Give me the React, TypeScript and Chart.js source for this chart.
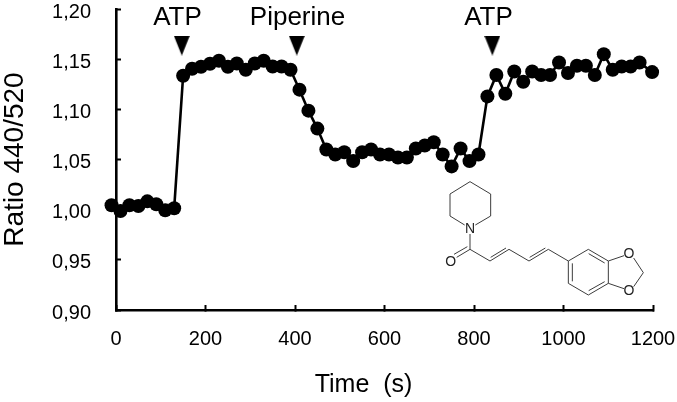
import React, { useEffect, useRef } from "react";
import { Chart, registerables } from "chart.js";

Chart.register(...registerables);

const timeSeconds = [-10, 10, 30, 50, 70, 90, 110, 130, 150, 170, 190, 210, 230, 250, 270, 290, 310, 330, 350, 370, 390, 410, 430, 450, 470, 490, 510, 530, 550, 570, 590, 610, 630, 650, 670, 690, 710, 730, 750, 770, 790, 810, 830, 850, 870, 890, 910, 930, 950, 970, 990, 1010, 1030, 1050, 1070, 1090, 1110, 1130, 1150, 1170, 1198];
const ratioValues = [1.0044, 0.9987, 1.0044, 1.0037, 1.0083, 1.0054, 0.9994, 1.0014, 1.1335, 1.1404, 1.1424, 1.1454, 1.1484, 1.1424, 1.1457, 1.1394, 1.1457, 1.1484, 1.1427, 1.1427, 1.1394, 1.1196, 1.0987, 1.0808, 1.06, 1.055, 1.0573, 1.0484, 1.0573, 1.06, 1.055, 1.055, 1.052, 1.052, 1.061, 1.064, 1.0672, 1.055, 1.0431, 1.061, 1.0484, 1.055, 1.1129, 1.1342, 1.1156, 1.1377, 1.1275, 1.1377, 1.1342, 1.1342, 1.1467, 1.1362, 1.1434, 1.1434, 1.1342, 1.155, 1.1394, 1.1427, 1.1427, 1.1467, 1.1371];
const markerTimes = [147, 404, 841];
const markerRatios = [1.1635, 1.1635, 1.1635];
const markerLabels = ["ATP", "Piperine", "ATP"];
const markerLabelTimes = [83, 299, 778];
const markerLabelRatio = 1.191;
const xAxisTitle = "Time  (s)";

const FONT = '"Liberation Sans", Arial, sans-serif';

const BONDS: number[][] = [
  [120, 35, 182, 72], [182, 72, 182, 138], [182, 138, 136, 165], [104, 165, 60, 138], [60, 138, 60, 72], [60, 72, 120, 35],
  [120, 192, 120, 238], [120, 238, 80, 262], [112, 230, 72, 253],
  [120, 238, 180, 273], [180, 273, 237, 238], [182, 262, 228, 234],
  [237, 238, 297, 273], [297, 273, 355, 238], [299, 262, 346, 234],
  [355, 238, 415, 273],
  [415, 273, 475, 238], [475, 238, 535, 273], [535, 273, 535, 340], [535, 340, 475, 375], [475, 375, 415, 340], [415, 340, 415, 273],
  [476, 251, 524, 279], [524, 335, 476, 362], [427, 334, 427, 280],
  [535, 273, 582, 257], [535, 340, 582, 356], [611, 264, 640, 308], [611, 350, 640, 308],
];
const ATOMS: [string, number, number][] = [["N", 120, 176], ["O", 62, 276], ["O", 597, 253], ["O", 597, 362]];

function triangleImage(): HTMLCanvasElement {
  const c = document.createElement("canvas");
  c.width = 16;
  c.height = 20;
  const g = c.getContext("2d")!;
  g.fillStyle = "#000";
  g.beginPath();
  g.moveTo(0, 0);
  g.lineTo(16, 0);
  g.lineTo(8, 20);
  g.closePath();
  g.fill();
  return c;
}

const annotationPlugin = {
  id: "annotations",
  afterDraw(chart: any) {
    const { ctx, scales } = chart;
    ctx.save();
    ctx.fillStyle = "#000";
    ctx.textBaseline = "middle";

    // y tick labels sit a little below their ticks in the reference
    ctx.font = `20px ${FONT}`;
    ctx.textAlign = "right";
    scales.y.ticks.forEach((t: any) => {
      ctx.fillText(Number(t.value).toFixed(2).replace(".", ","), 91, scales.y.getPixelForValue(t.value) + 3);
    });

    ctx.font = `26px ${FONT}`;
    ctx.textAlign = "left";
    markerLabels.forEach((t, i) => {
      ctx.fillText(t, scales.x.getPixelForValue(markerLabelTimes[i]), scales.y.getPixelForValue(markerLabelRatio));
    });

    ctx.font = `25px ${FONT}`;
    ctx.textAlign = "center";
    ctx.fillText(xAxisTitle, 363.5, 385);

    const mx = (v: number) => 430 + v / 3;
    const my = (v: number) => 170 + v / 3;
    ctx.strokeStyle = "#3c3c3c";
    ctx.lineWidth = 1;
    BONDS.forEach(([a, b, c, d]) => {
      ctx.beginPath();
      ctx.moveTo(mx(a), my(b));
      ctx.lineTo(mx(c), my(d));
      ctx.stroke();
    });
    ctx.fillStyle = "#222";
    ctx.font = `14px ${FONT}`;
    ATOMS.forEach(([t, a, b]) => ctx.fillText(t, mx(a), my(b)));
    ctx.restore();
  },
};

export default function App() {
  const ref = useRef<HTMLCanvasElement>(null);
  useEffect(() => {
    const fit = (w: number | null, h: number | null) => (scale: any) => {
      if (w !== null) scale.width = w;
      if (h !== null) scale.height = h;
      scale.paddingLeft = 0;
      scale.paddingRight = 0;
      scale.paddingTop = 0;
      scale.paddingBottom = 0;
    };
    const chart = new Chart(ref.current!, {
      type: "line",
      data: {
        datasets: [
          {
            data: timeSeconds.map((x, i) => ({ x, y: ratioValues[i] })),
            borderColor: "#000",
            backgroundColor: "#000",
            borderWidth: 2.6,
            pointRadius: 7,
            pointBackgroundColor: "#000",
            pointBorderWidth: 0,
            tension: 0,
            clip: false,
          },
          {
            data: markerTimes.map((x, i) => ({ x, y: markerRatios[i] })),
            showLine: false,
            pointStyle: triangleImage() as any,
            pointRadius: 8,
            clip: false,
          },
        ],
      },
      options: {
        animation: false,
        responsive: false,
        devicePixelRatio: 1,
        layout: { padding: { left: 0, top: 8, right: 24, bottom: 0 } },
        plugins: { legend: { display: false }, tooltip: { enabled: false } },
        scales: {
          x: {
            type: "linear",
            min: 0,
            max: 1200,
            afterFit: fit(null, 92),
            border: { display: true, color: "#000", width: 2.6 },
            grid: { drawOnChartArea: false, drawTicks: true, tickLength: -5, tickColor: "#000", tickWidth: 2 },
            ticks: {
              stepSize: 200,
              color: "#000",
              padding: 22,
              maxRotation: 0,
              autoSkip: false,
              font: { family: FONT, size: 20 },
              callback: (v: any) => String(v),
            },
          },
          y: {
            type: "linear",
            min: 0.9,
            max: 1.2,
            afterFit: fit(116, null),
            border: { display: true, color: "#000", width: 2.6 },
            grid: { drawOnChartArea: false, drawTicks: true, tickLength: -5, tickColor: "#000", tickWidth: 2 },
            ticks: { stepSize: 0.05, display: false },
            title: { display: true, text: "Ratio 440/520", color: "#000", font: { family: FONT, size: 28 }, padding: { top: -2, bottom: 0 } },
          },
        },
      } as any,
      plugins: [annotationPlugin],
    });
    return () => chart.destroy();
  }, []);
  return <canvas ref={ref} width={677} height={402} style={{ position: "fixed", left: 0, top: 0, display: "block" }} />;
}
